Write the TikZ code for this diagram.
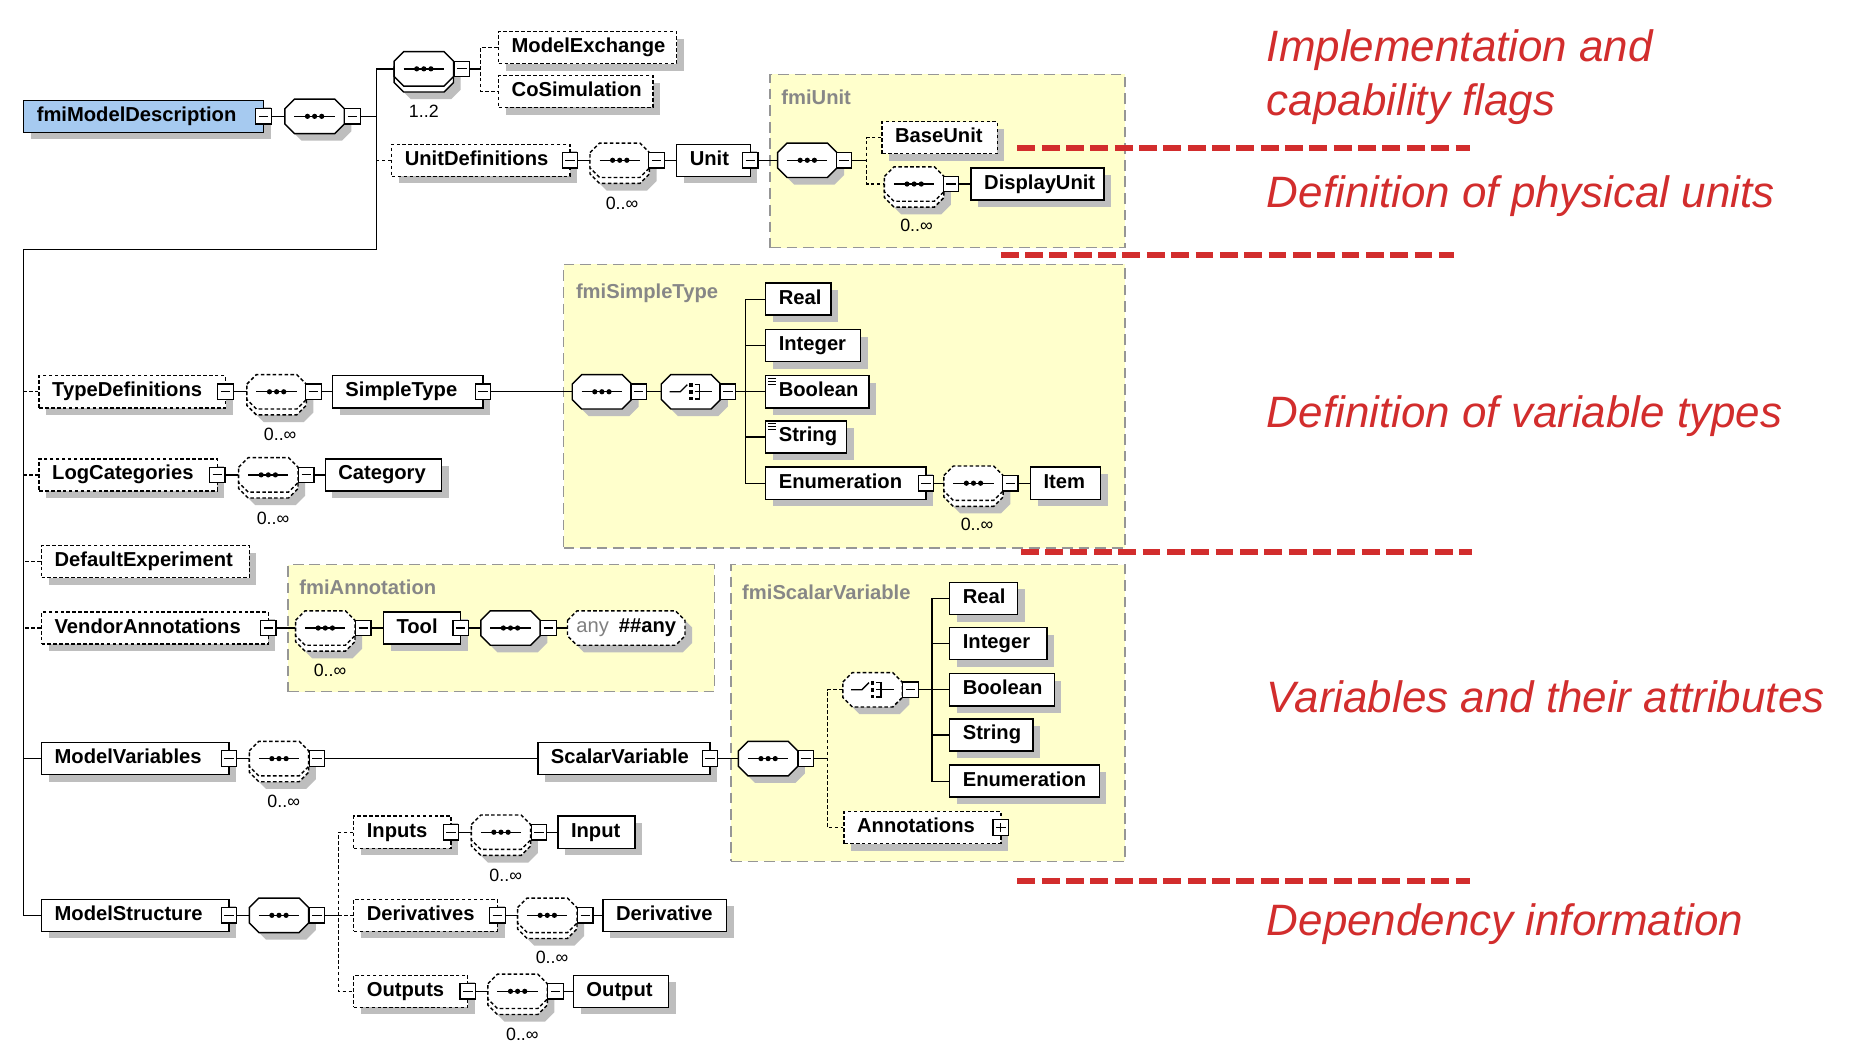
\documentclass[tikz,border=0pt]{standalone}
\usepackage{fontspec}
\setmainfont{Liberation Sans}
\usetikzlibrary{shadows,calc}
\definecolor{blu}{RGB}{166,202,240}
\definecolor{yel}{RGB}{255,255,204}
\definecolor{shc}{RGB}{190,190,190}
\definecolor{redc}{RGB}{210,45,45}
\definecolor{regb}{RGB}{150,150,150}
\definecolor{regt}{RGB}{135,135,135}
\tikzset{
 elbox/.style={draw, line width=1.2pt, fill=white, font=\fontsize{17}{19}\selectfont\bfseries,
   text height=12pt, text depth=3.5pt, inner xsep=11pt, inner ysep=5.75pt, align=left,
   drop shadow={shadow xshift=6pt,shadow yshift=-6pt,fill=shc,opacity=1}},
 opt/.style={dash pattern=on 3pt off 2pt},
 minusbox/.style={draw, fill=white, line width=1pt, minimum size=13pt, inner sep=0pt,
   path picture={\draw[line width=1pt] ([xshift=2.5pt]path picture bounding box.west) -- ([xshift=-2.5pt]path picture bounding box.east);}},
 plusbox/.style={draw, fill=white, line width=1pt, minimum size=13pt, inner sep=0pt,
   path picture={\draw[line width=1pt] ([xshift=2.5pt]path picture bounding box.west) -- ([xshift=-2.5pt]path picture bounding box.east)
      ([yshift=2.5pt]path picture bounding box.south) -- ([yshift=-2.5pt]path picture bounding box.north);}},
 conn/.style={line width=1.1pt},
 compo/.style={draw, fill=white, line width=1.2pt},
 cnode/.style={minimum width=50pt, minimum height=29pt, inner sep=0pt},
 multl/.style={font=\fontsize{15}{17}\selectfont, inner sep=0pt},
 region/.style={draw=regb, fill=yel, line width=1.3pt, dash pattern=on 9pt off 5pt, inner sep=0pt, anchor=north west},
 reglab/.style={text=regt, font=\fontsize{17}{19}\selectfont\bfseries, anchor=west, inner sep=0pt},
 redsep/.style={draw=redc, line width=5pt, dash pattern=on 15pt off 5.5pt},
 annot/.style={text=redc, font=\fontsize{37}{45}\selectfont\itshape, anchor=base west, inner sep=0pt},
}
\newcommand\el[6][]{\pgfmathsetmacro\elw{#4-#3-22}\node[elbox,#1,text width=\elw pt] (#2) at ({(#3+#4)/2},#5) {#6};}
\newcommand\mb[3]{\node[minusbox] (#1) at (#2,#3) {};}
\newcommand\pb[3]{\node[plusbox] (#1) at (#2,#3) {};}
\newcommand\octp[4]{\path[#4] (#1-#3,#2-6.5) -- (#1-#3+8,#2-14.5) -- (#1+#3-8,#2-14.5) -- (#1+#3,#2-6.5) -- (#1+#3,#2+6.5) -- (#1+#3-8,#2+14.5) -- (#1-#3+8,#2+14.5) -- (#1-#3,#2+6.5) -- cycle;}
\newcommand\comp[4][]{\octp{#3+6}{#4+6}{25}{fill=shc}\octp{#3}{#4}{25}{compo,#1}\node[cnode] (#2) at (#3,#4) {};}
\newcommand\rcomp[4][]{\octp{#3+6}{#4+11}{25}{fill=shc}\octp{#3}{#4+5}{25}{compo,#1}\octp{#3}{#4}{25}{compo,#1}\node[cnode] (#2) at (#3,#4) {};}
\newcommand\seqsym[1]{\draw[line width=1.1pt] ([xshift=-17pt]#1.center) -- ([xshift=17pt]#1.center);
  \foreach \dx in {-6,0,6} \fill ([xshift=\dx pt]#1.center) circle (2.2pt);}
\newcommand\chosym[1]{\draw[line width=1.1pt] ([xshift=-18pt]#1.center) -- ([xshift=-9pt]#1.center) -- ([xshift=-3pt,yshift=6pt]#1.center);
  \foreach \dy in {-7,-1.5,4} \fill ([xshift=-1.5pt,yshift=\dy pt]#1.center) rectangle +(3pt,3pt);
  \draw[line width=1.1pt] ([xshift=3pt,yshift=6pt]#1.center) -- ([xshift=7pt,yshift=6pt]#1.center) -- ([xshift=7pt,yshift=-6pt]#1.center) -- ([xshift=3pt,yshift=-6pt]#1.center);
  \draw[line width=1.1pt] ([xshift=3pt]#1.center) -- ([xshift=18pt]#1.center);}
\newcommand\eqicon[1]{\foreach \dy in {3,5.5,8} \draw[line width=0.8pt] ([xshift=2.5pt,yshift=-\dy pt]#1.north west) -- ++(7pt,0pt);}
\begin{document}
\begin{tikzpicture}[x=1pt,y=-1pt]
\useasboundingbox[fill=white] (0,0) rectangle (1560,889.5);
% ---------- regions
\node[region,minimum width=299pt,minimum height=146pt] (rUnit) at (648,62) {};
\node[reglab] (rUnitL) at (658,82) {fmiUnit};
\node[region,minimum width=473pt,minimum height=239pt] (rSimple) at (474,222) {};
\node[reglab] (rSimpleL) at (485,247) {fmiSimpleType};
\node[region,minimum width=359pt,minimum height=107pt] (rAnn) at (242,475) {};
\node[reglab] (rAnnL) at (252,495) {fmiAnnotation};
\node[region,minimum width=332pt,minimum height=250pt] (rScal) at (615,475) {};
\node[reglab] (rScalL) at (625,499) {fmiScalarVariable};
% ---------- root
\el[fill=blu]{root}{20}{222}{98}{fmiModelDescription}
\mb{rootm}{222}{98}
\comp{c1}{265}{98}\seqsym{c1}
\mb{c1m}{297}{98}
\draw[conn] (rootm) -- (c1);
% ---------- capability flags
\rcomp{c2}{357}{58}\seqsym{c2}
\mb{c2m}{389}{58}
\node[multl] (c2l) at (357,94) {1..2};
\el[opt]{mex}{420}{570}{40}{ModelExchange}
\el[opt]{cos}{420}{550}{77}{CoSimulation}
\coordinate (b2) at (405,58);
\draw[conn] (c2m) -- (b2);
\draw[conn,opt] (mex.west) -| (b2) |- (cos.west);
% ---------- main bus
\coordinate (bA) at (317,210);
\coordinate (bB) at (20,210);
\el{ms}{35}{193}{771}{ModelStructure}
\draw[conn] (c2.west) -| (bA) -- (bB) |- (ms.west);
\draw[conn] (c1m) -- (c1m -| bA);
% ---------- unit definitions
\el[opt]{ud}{330}{480}{135}{UnitDefinitions}
\mb{udm}{480}{135}
\draw[conn,opt] (ud.west) -- (ud.west -| bA);
\rcomp[opt]{c3}{522}{135}\seqsym{c3}
\mb{c3m}{553}{135}
\node[multl] (c3l) at (524,171) {0..∞};
\el{unit}{570}{632}{135}{Unit}
\mb{unitm}{632}{135}
\comp{c4}{680}{135}\seqsym{c4}
\mb{c4m}{711}{135}
\el[opt]{bu}{743}{840}{116}{BaseUnit}
\rcomp[opt]{c5}{770}{155}\seqsym{c5}
\mb{c5m}{801}{155}
\node[multl] (c5l) at (772,190) {0..∞};
\el{du}{818}{930}{155}{DisplayUnit}
\coordinate (b4) at (730,135);
\draw[conn] (udm) -- (c3);
\draw[conn] (c3m) -- (unit);
\draw[conn] (unitm) -- (c4);
\draw[conn] (c4m) -- (b4);
\draw[conn,opt] (bu.west) -| (b4) |- (c5);
\draw[conn] (c5m) -- (du);
% ---------- type definitions
\el[opt]{td}{33}{190}{330}{TypeDefinitions}
\mb{tdm}{190}{330}
\draw[conn,opt] (td.west) -- (td.west -| bB);
\rcomp[opt]{c6}{233}{330}\seqsym{c6}
\mb{c6m}{264}{330}
\node[multl] (c6l) at (236,366) {0..∞};
\el{st}{280}{407}{330}{SimpleType}
\mb{stm}{407}{330}
\comp{c7}{507}{330}\seqsym{c7}
\mb{c7m}{538}{330}
\comp{c8}{582}{330}\chosym{c8}
\mb{c8m}{613}{330}
\el{sReal}{645}{700}{252}{Real}
\el{sInt}{645}{725}{291}{Integer}
\el{sBool}{645}{732}{330}{Boolean}
\el{sStr}{645}{713}{368}{String}
\el{sEnum}{645}{780}{407}{Enumeration}
\eqicon{sBool}\eqicon{sStr}
\mb{sEnumm}{780}{407}
\rcomp[opt]{c9}{820}{407}\seqsym{c9}
\mb{c9m}{851}{407}
\node[multl] (c9l) at (823,442) {0..∞};
\el{sItem}{868}{927}{407}{Item}
\coordinate (b8) at (628,330);
\draw[conn] (tdm) -- (c6);
\draw[conn] (c6m) -- (st);
\draw[conn] (stm) -- (c7);
\draw[conn] (c7m) -- (c8);
\draw[conn] (c8m) -- (sBool);
\draw[conn] (sReal.west) -| (sEnum.west -| b8) -- (sEnum.west);
\draw[conn] (sInt.west) -- (sInt.west -| b8);
\draw[conn] (sStr.west) -- (sStr.west -| b8);
\draw[conn] (sEnumm) -- (c9);
\draw[conn] (c9m) -- (sItem);
% ---------- log categories
\el[opt]{lc}{33}{183}{400}{LogCategories}
\mb{lcm}{183}{400}
\draw[conn,opt] (lc.west) -- (lc.west -| bB);
\rcomp[opt]{c10}{226}{400}\seqsym{c10}
\mb{c10m}{258}{400}
\node[multl] (c10l) at (230,437) {0..∞};
\el{cat}{274}{372}{400}{Category}
\draw[conn] (lcm) -- (c10);
\draw[conn] (c10m) -- (cat);
% ---------- default experiment
\el[opt]{de}{35}{210}{473}{DefaultExperiment}
\draw[conn,opt] (de.west) -- (de.west -| bB);
% ---------- vendor annotations
\el[opt]{va}{35}{226}{529}{VendorAnnotations}
\mb{vam}{226}{529}
\draw[conn,opt] (va.west) -- (va.west -| bB);
\rcomp[opt]{c11}{274}{529}\seqsym{c11}
\mb{c11m}{306}{529}
\node[multl] (c11l) at (278,565) {0..∞};
\el{tool}{323}{388}{529}{Tool}
\mb{toolm}{388}{529}
\comp{c12}{430}{529}\seqsym{c12}
\mb{c12m}{462}{529}
\octp{533.5}{535}{49.5}{fill=shc}
\octp{527.5}{529}{49.5}{compo,opt}
\node[cnode,minimum width=99pt,font=\fontsize{17}{19}\selectfont] (any) at (527.5,529) {\textcolor{gray}{any}\enspace\textbf{\#\#any}};
\draw[conn] (vam) -- (c11);
\draw[conn] (c11m) -- (tool);
\draw[conn] (toolm) -- (c12);
\draw[conn] (c12m) -- (any);
% ---------- model variables
\el{mv}{35}{193}{639}{ModelVariables}
\mb{mvm}{193}{639}
\draw[conn] (mv.west) -- (mv.west -| bB);
\rcomp[opt]{c13}{235}{639}\seqsym{c13}
\mb{c13m}{267}{639}
\node[multl] (c13l) at (239,675) {0..∞};
\el{sv}{453}{598}{639}{ScalarVariable}
\mb{svm}{598}{639}
\comp{c14}{647}{639}\seqsym{c14}
\mb{c14m}{679}{639}
\comp[opt]{c15}{735}{581}\chosym{c15}
\mb{c15m}{767}{581}
\el[opt]{ann}{711}{843}{697}{Annotations}
\pb{annp}{843}{697}
\el{vReal}{800}{857}{504}{Real}
\el{vInt}{800}{882}{542}{Integer}
\el{vBool}{800}{888}{581}{Boolean}
\el{vStr}{800}{870}{619}{String}
\el{vEnum}{800}{926}{658}{Enumeration}
\coordinate (b14) at (697,639);
\coordinate (b15) at (785,581);
\draw[conn] (mvm) -- (c13);
\draw[conn] (c13m) -- (sv);
\draw[conn] (svm) -- (c14);
\draw[conn] (c14m) -- (b14);
\draw[conn,opt] (c15) -| (b14) |- (ann);
\draw[conn] (c15m) -- (vBool);
\draw[conn] (vReal.west) -| (vEnum.west -| b15) -- (vEnum.west);
\draw[conn] (vInt.west) -- (vInt.west -| b15);
\draw[conn] (vStr.west) -- (vStr.west -| b15);
% ---------- model structure
\mb{msm}{193}{771}
\comp{c16}{235}{771}\seqsym{c16}
\mb{c16m}{267}{771}
\coordinate (b16) at (285,771);
\el[opt]{inp}{298}{380}{701}{Inputs}
\mb{inpm}{380}{701}
\rcomp[opt]{c17}{422}{701}\seqsym{c17}
\mb{c17m}{454}{701}
\node[multl] (c17l) at (426,737) {0..∞};
\el{input}{470}{535}{701}{Input}
\el[opt]{der}{298}{419}{771}{Derivatives}
\mb{derm}{419}{771}
\rcomp[opt]{c18}{461}{771}\seqsym{c18}
\mb{c18m}{493}{771}
\node[multl] (c18l) at (465,806) {0..∞};
\el{deriv}{508}{612}{771}{Derivative}
\el[opt]{outs}{298}{394}{835}{Outputs}
\mb{outsm}{394}{835}
\rcomp[opt]{c19}{436}{835}\seqsym{c19}
\mb{c19m}{468}{835}
\node[multl] (c19l) at (440,871) {0..∞};
\el{output}{483}{563}{835}{Output}
\draw[conn] (msm) -- (c16);
\draw[conn] (c16m) -- (b16);
\draw[conn,opt] (inp.west) -| (b16) |- (outs.west);
\draw[conn,opt] (b16) -- (der);
\draw[conn] (inpm) -- (c17);
\draw[conn] (c17m) -- (input);
\draw[conn] (derm) -- (c18);
\draw[conn] (c18m) -- (deriv);
\draw[conn] (outsm) -- (c19);
\draw[conn] (c19m) -- (output);
% ---------- red separators and annotations
\coordinate (r1a) at (857,125); \coordinate (r1b) at (1238,125);
\coordinate (r2a) at (843,215); \coordinate (r2b) at (1225,215);
\coordinate (r3a) at (860,465); \coordinate (r3b) at (1240,465);
\coordinate (r4a) at (857,742); \coordinate (r4b) at (1238,742);
\draw[redsep] (r1a) -- (r1b);
\draw[redsep] (r2a) -- (r2b);
\draw[redsep] (r3a) -- (r3b);
\draw[redsep] (r4a) -- (r4b);
\node[annot] (t1) at (1067,52) {Implementation and};
\node[annot] (t2) at (1067,97) {capability flags};
\node[annot] (t3) at (1067,175) {Definition of physical units};
\node[annot] (t4) at (1067,360) {Definition of variable types};
\node[annot] (t5) at (1067,600) {Variables and their attributes};
\node[annot] (t6) at (1067,788) {Dependency information};
\end{tikzpicture}
\end{document}
